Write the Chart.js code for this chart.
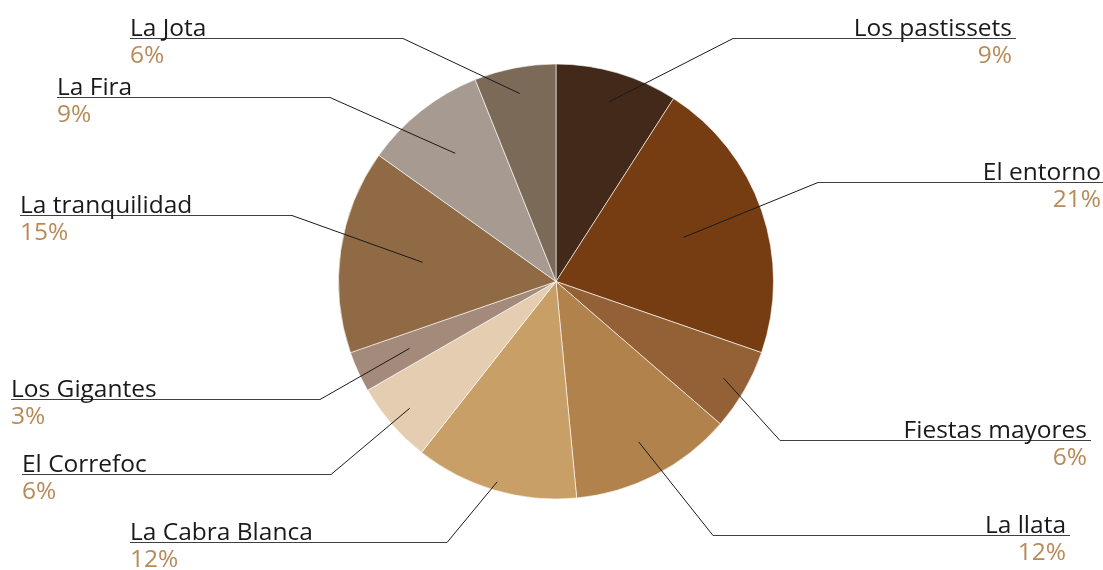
<!DOCTYPE html>
<html>
<head>
<meta charset="utf-8">
<script src="https://cdn.jsdelivr.net/npm/chart.js@4"></script>
<style>
  html, body { margin: 0; padding: 0; background: #fff; }
  #wrap { width: 1103px; height: 570px; position: relative; }
</style>
</head>
<body>
<div id="wrap"><canvas id="graph0"></canvas></div>
<script>
// DATA
const categories = ['Los pastissets', 'El entorno', 'Fiestas mayores', 'La llata', 'La Cabra Blanca',
    'El Correfoc', 'Los Gigantes', 'La tranquilidad', 'La Fira', 'La Jota']
const responses = [3, 7, 2, 4, 4, 2, 1, 5, 3, 2]
const sliceColors = ['#43291a', '#763d13', '#946137', '#b2824c', '#c99f68',
    '#e4cdb0', '#a38a7b', '#8f6a44', '#a79a90', '#7c6a58']

// callout layout : elbow point of the leader, text edge, side, depth of leader inside slice
const calloutLayout = [
    { elbow: [733, 38], textX: 1012, side: 'right', depth: 0.86 },
    { elbow: [818, 182], textX: 1101, side: 'right', depth: 0.62 },
    { elbow: [780, 440], textX: 1087, side: 'right', depth: 0.89 },
    { elbow: [713, 535], textX: 1066, side: 'right', depth: 0.83 },
    { elbow: [447, 542], textX: 130, side: 'left', depth: 0.96 },
    { elbow: [331, 474], textX: 22, side: 'left', depth: 0.89 },
    { elbow: [320, 399], textX: 11, side: 'left', depth: 0.74 },
    { elbow: [292, 215], textX: 20, side: 'left', depth: 0.62 },
    { elbow: [330, 97], textX: 57, side: 'left', depth: 0.75 },
    { elbow: [403, 38], textX: 130, side: 'left', depth: 0.88 }
]

const FONT = '"Open Sans", "Noto Sans", sans-serif'

// CALLOUTS
const callouts = {
    id: 'callouts',
    afterDatasetsDraw(chart) {
        const ctx = chart.ctx
        const meta = chart.getDatasetMeta(0)
        const total = responses.reduce((a, b) => a + b, 0)
        ctx.save()
        meta.data.forEach((arc, i) => {
            const p = arc.getProps(['x', 'y', 'startAngle', 'endAngle', 'outerRadius'], true)
            const mid = (p.startAngle + p.endAngle) / 2
            const lay = calloutLayout[i]
            const px = p.x + Math.cos(mid) * p.outerRadius * lay.depth
            const py = p.y + Math.sin(mid) * p.outerRadius * lay.depth
            const [ex, ey] = lay.elbow

            ctx.font = '24.5px ' + FONT
            const endX = lay.side === 'right' ? lay.textX + 4 : lay.textX

            // leader
            ctx.strokeStyle = '#1a1a1a'
            ctx.lineWidth = 1
            ctx.beginPath()
            ctx.moveTo(px, py)
            ctx.lineTo(ex, ey + 0.5)
            ctx.stroke()
            ctx.strokeStyle = '#404040'
            ctx.beginPath()
            ctx.moveTo(ex, ey + 0.5)
            ctx.lineTo(endX, ey + 0.5)
            ctx.stroke()

            // texts
            ctx.textBaseline = 'alphabetic'
            ctx.textAlign = lay.side === 'right' ? 'right' : 'left'
            ctx.fillStyle = '#1a1a1a'
            ctx.fillText(categories[i], lay.textX, ey - 2)
            ctx.fillStyle = '#b88a57'
            ctx.fillText(Math.round(responses[i] / total * 100) + '%', lay.textX, ey + 25)
        })
        ctx.restore()
    }
}

// GRAPH
const ctx = document.getElementById('graph0').getContext('2d')
const graph0 = new Chart(ctx, {
    type: 'pie',
    data: {
        labels: categories,
        datasets: [
            {
                data: responses,
                backgroundColor: sliceColors,
                borderColor: 'rgba(255,255,255,0.6)',
                borderWidth: 1,
                offset: 0,
                hoverOffset: 0
            }
        ]
    },
    options: {
        responsive: true,
        maintainAspectRatio: false,
        animation: false,
        events: [],
        layout: {
            padding: { top: 63, bottom: 70, left: 338, right: 329 }
        },
        plugins: {
            legend: { display: false },
            tooltip: { enabled: false }
        }
    },
    plugins: [callouts]
})
</script>
</body>
</html>
